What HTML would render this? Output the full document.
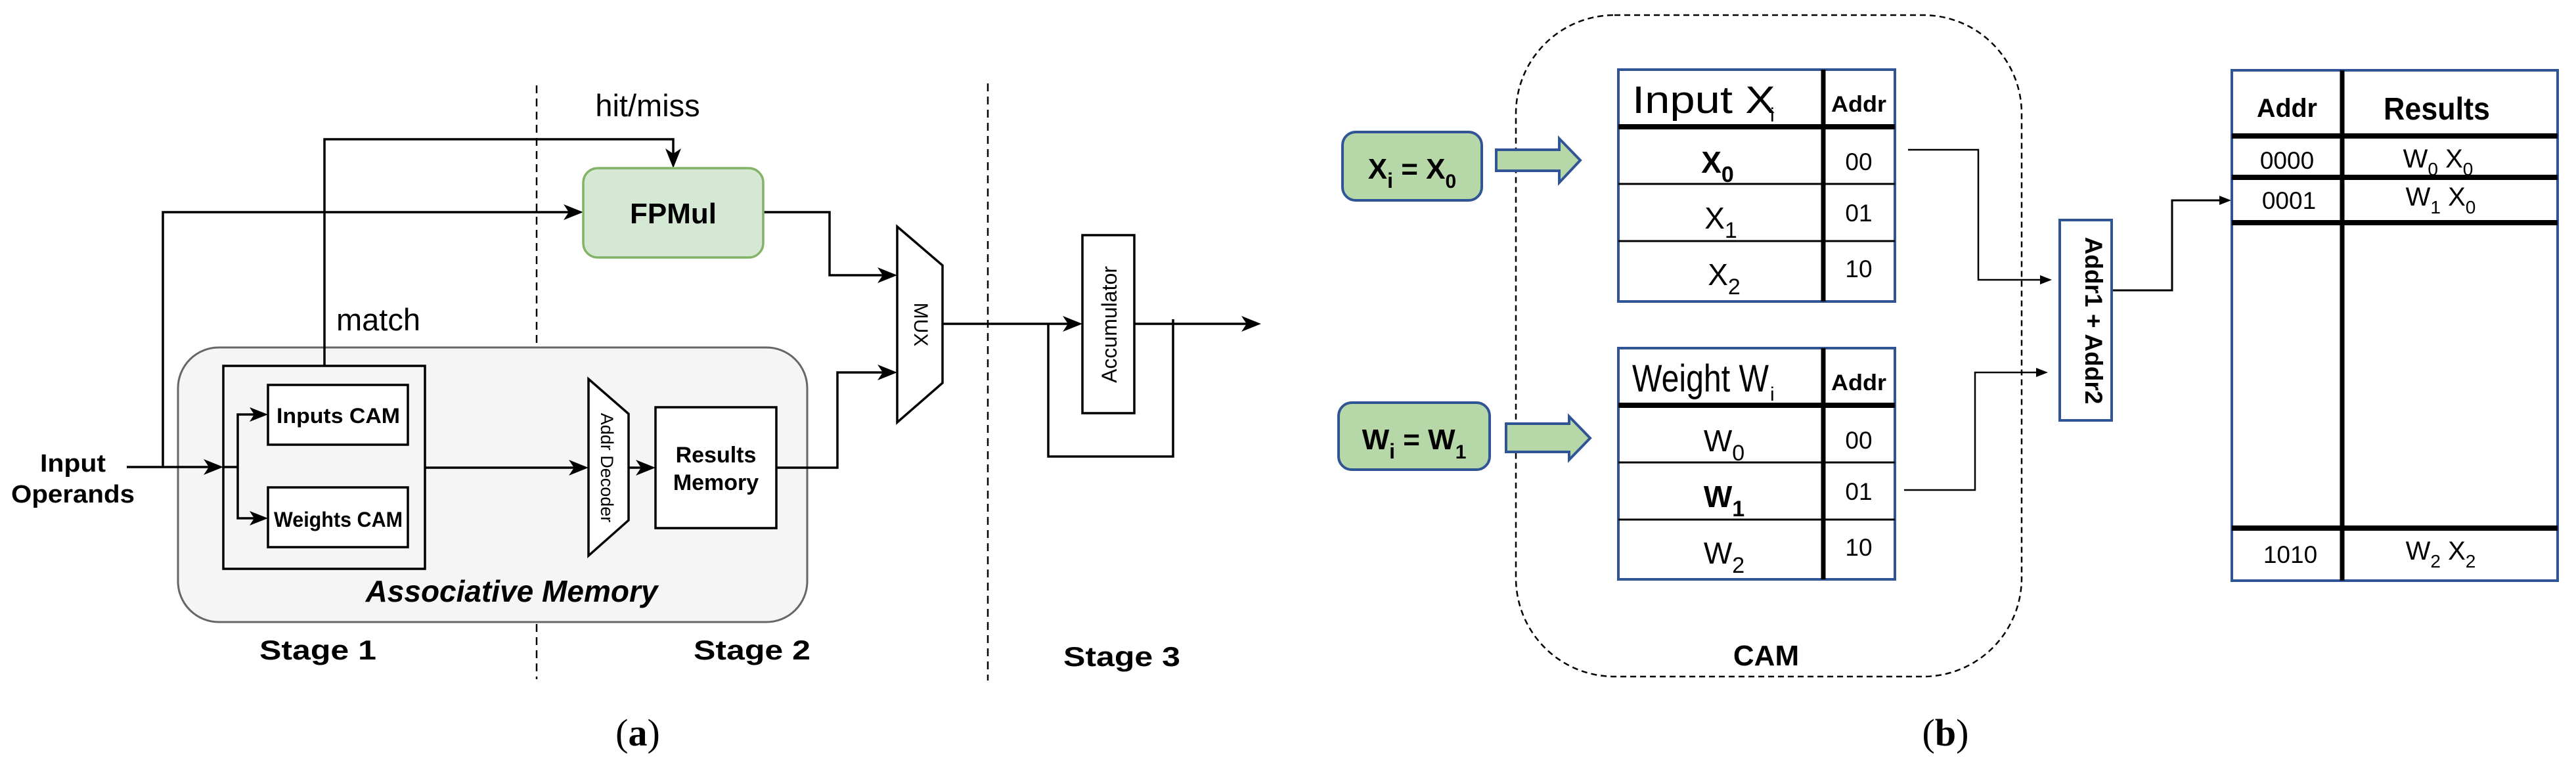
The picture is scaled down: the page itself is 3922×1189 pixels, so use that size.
<!DOCTYPE html>
<html><head><meta charset="utf-8"><style>
html,body{margin:0;padding:0;background:#fff}
svg{display:block}
text{font-family:"Liberation Sans",sans-serif}
</style></head><body>
<svg width="3922" height="1189" viewBox="0 0 3922 1189" xmlns="http://www.w3.org/2000/svg">
<defs>
<marker id="ar" markerWidth="10" markerHeight="10" refX="9" refY="5" orient="auto" markerUnits="userSpaceOnUse" viewBox="0 0 10 10">
</marker>
</defs>
<g fill="none" stroke="#000" stroke-width="3">
<!-- dashed stage lines -->
<line x1="817" y1="130" x2="817" y2="1034" stroke-dasharray="12,8" stroke-width="2.5"/>
<line x1="1504" y1="127" x2="1504" y2="1036" stroke-dasharray="12,8" stroke-width="2.5"/>
</g>
<!-- assoc memory -->
<rect x="271" y="529" width="958" height="418" rx="62" fill="#f5f5f5" stroke="#666" stroke-width="3"/>
<g fill="none" stroke="#000" stroke-width="3.5">
<rect x="340" y="557" width="307" height="309" fill="none"/>
<rect x="408" y="586" width="213" height="91" fill="#fff"/>
<rect x="408" y="742" width="213" height="91" fill="#fff"/>
<polygon points="896,577 957,630 957,792 896,846" fill="#fff"/>
<rect x="998" y="620" width="184" height="184" fill="#fff"/>
<polygon points="1366,345 1435,404 1435,583 1366,643" fill="#fff"/>
<rect x="1648" y="358" width="79" height="271" fill="#fff"/>
<!-- lines -->
<polyline points="494,557 494,212 1025,212 1025,240"/>
<polyline points="248,711 248,323 872,323"/>
<line x1="193" y1="711" x2="326" y2="711"/>
<polyline points="394,631 362,631 362,789 394,789"/>
<line x1="340" y1="711" x2="362" y2="711"/>
<line x1="647" y1="712" x2="880" y2="712"/>
<line x1="957" y1="712" x2="982" y2="712"/>
<polyline points="1182,712 1275,712 1275,567 1350,567"/>
<polyline points="1162,323 1263,323 1263,419 1350,419"/>
<line x1="1435" y1="493" x2="1632" y2="493"/>
<polyline points="1596,493 1596,695 1786,695 1786,486"/>
<line x1="1727" y1="493" x2="1905" y2="493"/>
</g>
<g fill="#000">
<polygon points="1025,256 1013,226 1025,234 1037,226"/>
<polygon points="888,323 858,311 866,323 858,335"/>
<polygon points="340,711 310,699 318,711 310,723"/>
<polygon points="408,631 380,620 387,631 380,642"/>
<polygon points="408,789 380,778 387,789 380,800"/>
<polygon points="896,712 866,700 874,712 866,724"/>
<polygon points="998,712 968,700 976,712 968,724"/>
<polygon points="1366,567 1336,555 1344,567 1336,579"/>
<polygon points="1366,419 1336,407 1344,419 1336,431"/>
<polygon points="1648,493 1618,481 1626,493 1618,505"/>
<polygon points="1920,493 1890,481 1898,493 1890,505"/>
</g>
<rect x="888" y="256" width="274" height="136" rx="22" fill="#d5e8d4" stroke="#82b366" stroke-width="3.5"/>
<text x="1025" y="340" font-size="44" font-weight="bold" text-anchor="middle">FPMul</text>
<text x="986" y="177" font-size="47" text-anchor="middle">hit/miss</text>
<text x="576" y="503" font-size="47" text-anchor="middle">match</text>
<text x="111" y="718" font-size="38" font-weight="bold" text-anchor="middle" textLength="100" lengthAdjust="spacingAndGlyphs">Input</text>
<text x="111" y="765" font-size="38" font-weight="bold" text-anchor="middle" textLength="188" lengthAdjust="spacingAndGlyphs">Operands</text>
<text x="515" y="644" font-size="32" font-weight="bold" text-anchor="middle" textLength="188" lengthAdjust="spacingAndGlyphs">Inputs CAM</text>
<text x="515" y="802" font-size="32" font-weight="bold" text-anchor="middle" textLength="196" lengthAdjust="spacingAndGlyphs">Weights CAM</text>
<text x="1090" y="704" font-size="34" font-weight="bold" text-anchor="middle">Results</text>
<text x="1090" y="746" font-size="34" font-weight="bold" text-anchor="middle">Memory</text>
<text transform="translate(915,712) rotate(90)" font-size="27" text-anchor="middle">Addr Decoder</text>
<text transform="translate(1392,494) rotate(90)" font-size="30" text-anchor="middle">MUX</text>
<text transform="translate(1700,494) rotate(-90)" font-size="32" text-anchor="middle">Accumulator</text>
<text x="779" y="916" font-size="46" font-weight="bold" font-style="italic" text-anchor="middle">Associative Memory</text>
<text x="484" y="1004" font-size="42" font-weight="bold" text-anchor="middle" textLength="178" lengthAdjust="spacingAndGlyphs">Stage 1</text>
<text x="1145" y="1004" font-size="42" font-weight="bold" text-anchor="middle" textLength="178" lengthAdjust="spacingAndGlyphs">Stage 2</text>
<text x="1708" y="1014" font-size="42" font-weight="bold" text-anchor="middle" textLength="178" lengthAdjust="spacingAndGlyphs">Stage 3</text>
<text x="971" y="1135" font-size="58" text-anchor="middle" style="font-family:'Liberation Serif',serif">(<tspan font-weight="bold">a</tspan>)</text>

<!-- (b) -->
<rect x="2308" y="23" width="770" height="1007" rx="150" fill="none" stroke="#000" stroke-width="2.5" stroke-dasharray="9,6"/>
<rect x="2044" y="201" width="212" height="104" rx="20" fill="#b6d7a8" stroke="#2f5597" stroke-width="4"/>
<rect x="2038" y="613" width="230" height="102" rx="20" fill="#b6d7a8" stroke="#2f5597" stroke-width="4"/>
<polygon points="2278,228 2374,228 2374,211 2406,244 2374,278 2374,260 2278,260" fill="#b6d7a8" stroke="#2f5597" stroke-width="4"/>
<polygon points="2293,645 2389,645 2389,634 2421,667 2389,700 2389,688 2293,688" fill="#b6d7a8" stroke="#2f5597" stroke-width="4"/>
<text x="2150" y="272" font-size="44" font-weight="bold" text-anchor="middle">X<tspan font-size="32" dy="14">i</tspan><tspan dy="-14"> = X</tspan><tspan font-size="30" dy="14">0</tspan></text>
<text x="2153" y="684" font-size="44" font-weight="bold" text-anchor="middle">W<tspan font-size="32" dy="14">i</tspan><tspan dy="-14"> = W</tspan><tspan font-size="30" dy="14">1</tspan></text>

<g stroke="#000" fill="none">
<!-- input table -->
<rect x="2464" y="106" width="421" height="353" fill="#fff" stroke="#2f5597" stroke-width="4"/>
<line x1="2776" y1="106" x2="2776" y2="459" stroke-width="7"/>
<line x1="2464" y1="193" x2="2885" y2="193" stroke-width="8"/>
<line x1="2464" y1="280" x2="2885" y2="280" stroke-width="3"/>
<line x1="2464" y1="367" x2="2885" y2="367" stroke-width="3"/>
<!-- weight table -->
<rect x="2464" y="530" width="421" height="352" fill="#fff" stroke="#2f5597" stroke-width="4"/>
<line x1="2776" y1="530" x2="2776" y2="882" stroke-width="7"/>
<line x1="2464" y1="617" x2="2885" y2="617" stroke-width="8"/>
<line x1="2464" y1="704" x2="2885" y2="704" stroke-width="3"/>
<line x1="2464" y1="791" x2="2885" y2="791" stroke-width="3"/>
<!-- connectors -->
<polyline points="2905,228 3012,228 3012,426 3110,426" stroke-width="2.5"/>
<polyline points="2899,746 3007,746 3007,567 3106,567" stroke-width="2.5"/>
<polyline points="3215,442 3307,442 3307,305 3385,305" stroke-width="3"/>
<!-- results table -->
<rect x="3398" y="107" width="496" height="777" fill="#fff" stroke="#2f5597" stroke-width="4"/>
<line x1="3566" y1="107" x2="3566" y2="884" stroke-width="7"/>
<line x1="3398" y1="207" x2="3894" y2="207" stroke-width="8"/>
<line x1="3398" y1="270" x2="3894" y2="270" stroke-width="8"/>
<line x1="3398" y1="339" x2="3894" y2="339" stroke-width="8"/>
<line x1="3398" y1="804" x2="3894" y2="804" stroke-width="8"/>
<rect x="3136" y="335" width="79" height="305" fill="#fff" stroke="#2f5597" stroke-width="4"/>
</g>
<g fill="#000">
<polygon points="3124,426 3106,419 3106,433"/>
<polygon points="3118,567 3100,560 3100,574"/>
<polygon points="3397,305 3379,298 3379,312"/>
</g>
<text transform="translate(3175,488) rotate(90)" font-size="37" font-weight="bold" text-anchor="middle">Addr1 + Addr2</text>

<text x="2485" y="172" font-size="58" textLength="218" lengthAdjust="spacingAndGlyphs">Input  X</text>
<text x="2695" y="185" font-size="30">i</text>
<text x="2830" y="170" font-size="34" font-weight="bold" text-anchor="middle" textLength="84" lengthAdjust="spacingAndGlyphs">Addr</text>
<text x="2615" y="263" font-size="46" font-weight="bold" text-anchor="middle">X<tspan font-size="34" dy="14">0</tspan></text>
<text x="2620" y="348" font-size="46" text-anchor="middle">X<tspan font-size="34" dy="14">1</tspan></text>
<text x="2625" y="434" font-size="46" text-anchor="middle">X<tspan font-size="34" dy="14">2</tspan></text>
<text x="2830" y="259" font-size="37" text-anchor="middle">00</text>
<text x="2830" y="337" font-size="37" text-anchor="middle">01</text>
<text x="2830" y="422" font-size="37" text-anchor="middle">10</text>

<text x="2485" y="596" font-size="58" textLength="208" lengthAdjust="spacingAndGlyphs">Weight W</text>
<text x="2695" y="610" font-size="30">i</text>
<text x="2830" y="594" font-size="34" font-weight="bold" text-anchor="middle" textLength="84" lengthAdjust="spacingAndGlyphs">Addr</text>
<text x="2625" y="687" font-size="46" text-anchor="middle">W<tspan font-size="34" dy="14">0</tspan></text>
<text x="2625" y="772" font-size="46" font-weight="bold" text-anchor="middle">W<tspan font-size="34" dy="14">1</tspan></text>
<text x="2625" y="858" font-size="46" text-anchor="middle">W<tspan font-size="34" dy="14">2</tspan></text>
<text x="2830" y="683" font-size="37" text-anchor="middle">00</text>
<text x="2830" y="761" font-size="37" text-anchor="middle">01</text>
<text x="2830" y="846" font-size="37" text-anchor="middle">10</text>

<text x="3482" y="178" font-size="40" font-weight="bold" text-anchor="middle" textLength="92" lengthAdjust="spacingAndGlyphs">Addr</text>
<text x="3710" y="182" font-size="48" font-weight="bold" text-anchor="middle" textLength="162" lengthAdjust="spacingAndGlyphs">Results</text>
<text x="3482" y="257" font-size="37" text-anchor="middle">0000</text>
<text x="3485" y="318" font-size="37" text-anchor="middle">0001</text>
<text x="3487" y="857" font-size="37" text-anchor="middle">1010</text>
<text x="3712" y="255" font-size="40" text-anchor="middle">W<tspan font-size="28" dy="12">0</tspan><tspan dy="-12"> X</tspan><tspan font-size="28" dy="12">0</tspan></text>
<text x="3716" y="313" font-size="40" text-anchor="middle">W<tspan font-size="28" dy="12">1</tspan><tspan dy="-12"> X</tspan><tspan font-size="28" dy="12">0</tspan></text>
<text x="3716" y="852" font-size="40" text-anchor="middle">W<tspan font-size="28" dy="12">2</tspan><tspan dy="-12"> X</tspan><tspan font-size="28" dy="12">2</tspan></text>

<text x="2689" y="1013" font-size="44" font-weight="bold" text-anchor="middle">CAM</text>
<text x="2962" y="1135" font-size="58" text-anchor="middle" style="font-family:'Liberation Serif',serif">(<tspan font-weight="bold">b</tspan>)</text>
</svg>
</body></html>
